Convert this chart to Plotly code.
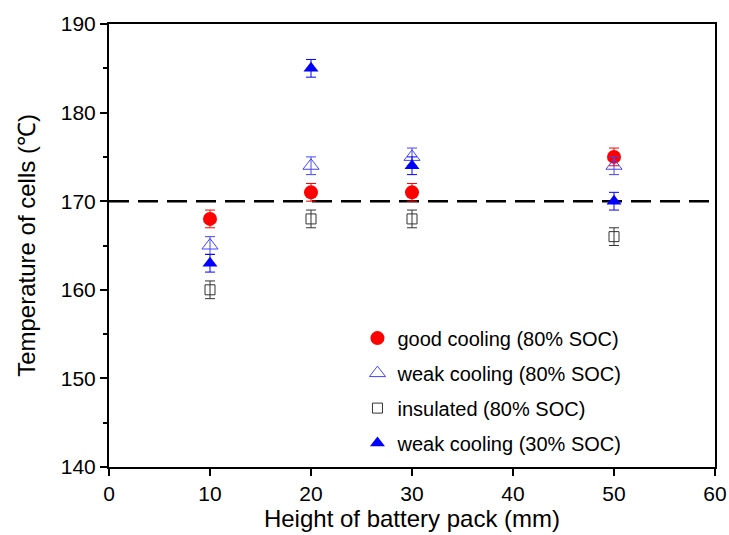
import plotly.graph_objects as go

heights = [10, 20, 30, 50]
good_80 = [168, 171, 171, 175]
weak_80 = [165, 174, 175, 174]
insul_80 = [160, 168, 168, 166]
weak_30 = [163, 185, 174, 170]
err = [1, 1, 1, 1]
threshold = 170

x_ticks = [0, 10, 20, 30, 40, 50, 60]
y_ticks = [140, 150, 160, 170, 180, 190]

FONT = "Liberation Sans, Arial"

fig = go.Figure()

fig.add_hline(y=threshold, line=dict(color="black", width=2.5, dash="20px,9px"), layer="below")

def ebar(color):
    return dict(type="data", array=err, visible=True, color=color, thickness=1, width=5)

fig.add_trace(go.Scatter(x=heights, y=good_80, mode="markers", name="good cooling (80% SOC)",
                         legendgroup="a",
                         marker=dict(symbol="circle", size=14, color="#FF0000"),
                         error_y=ebar("#FF0000")))
fig.add_trace(go.Scatter(x=heights, y=weak_80, mode="markers", name="weak cooling (80% SOC)",
                         legendgroup="b",
                         marker=dict(symbol="triangle-up-open", size=14, color="#4444FF", line=dict(width=1)),
                         error_y=ebar("#4444FF")))
fig.add_trace(go.Scatter(x=heights, y=insul_80, mode="markers", name="insulated (80% SOC)",
                         legendgroup="c",
                         marker=dict(symbol="square-open", size=10, color="#333333", line=dict(width=1)),
                         error_y=ebar("#333333")))
fig.add_trace(go.Scatter(x=heights, y=weak_30, mode="markers", name="weak cooling (30% SOC)",
                         legendgroup="d",
                         marker=dict(symbol="triangle-up", size=13, color="#0000FF"),
                         error_y=ebar("#0000FF")))

axis_common = dict(showline=True, linecolor="black", linewidth=2, mirror=True, showgrid=False,
                   zeroline=False, ticks="outside", ticklen=7, tickwidth=2, tickcolor="black",
                   tickfont=dict(family=FONT, size=21, color="black"))

fig.update_xaxes(range=[0, 60], tickvals=x_ticks, automargin=False,
                 title=dict(text="Height of battery pack (mm)", font=dict(family=FONT, size=24, color="black"), standoff=6),
                 **axis_common)
fig.update_yaxes(range=[140, 190], tickvals=y_ticks,
                 minor=dict(dtick=5, ticks="outside", ticklen=4, tickwidth=2, tickcolor="black"),
                 title=dict(text="Temperature of cells (℃)", font=dict(family=FONT, size=24, color="black"), standoff=18),
                 **axis_common)

fig.update_layout(
    width=729, height=535,
    margin=dict(l=109, r=12, t=24, b=68),
    plot_bgcolor="white", paper_bgcolor="white",
    legend=dict(x=0.41, y=0.335, xanchor="left", yanchor="top", bgcolor="rgba(0,0,0,0)",
                font=dict(family=FONT, size=20, color="black"),
                tracegroupgap=6, itemsizing="trace"),
    showlegend=True,
)

fig.write_html("out.html")
